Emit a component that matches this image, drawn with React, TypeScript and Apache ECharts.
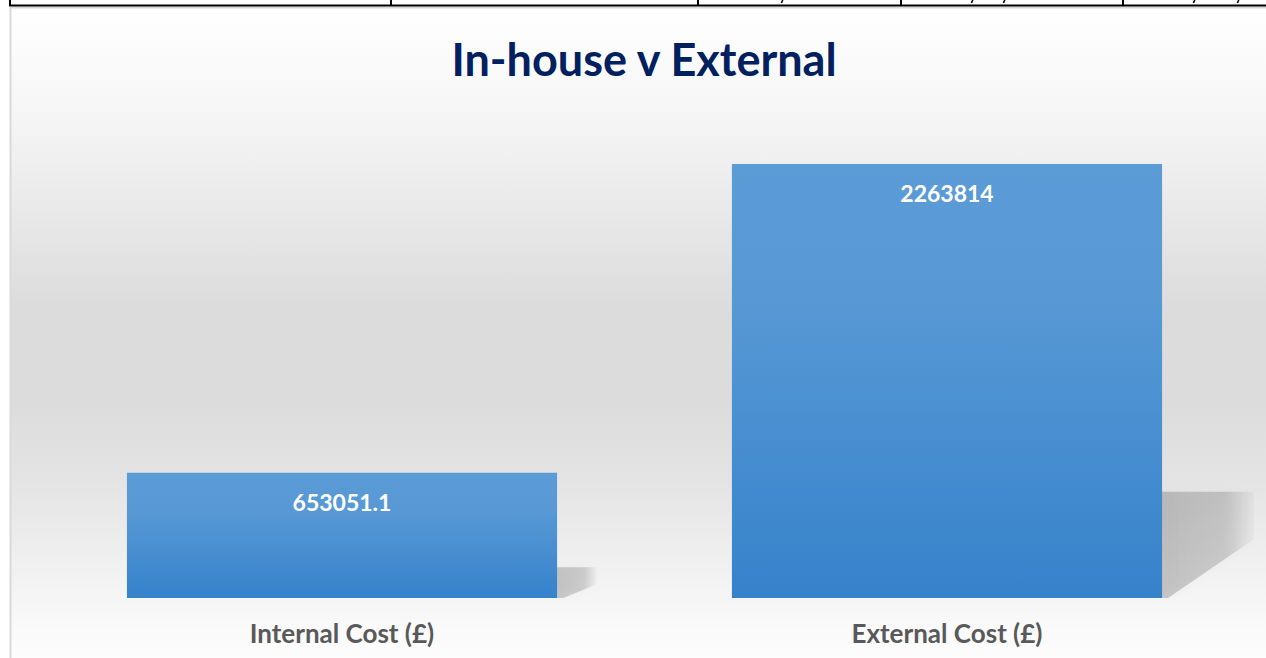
import React, { useEffect, useRef } from "react";
import * as echarts from "echarts";

const chartTitle = "In-house v External";
const categories = ["Internal Cost (£)", "External Cost (£)"];
const costValues = [653051.1, 2263814];
const yMax = 2500000;

const W = 1266;
const H = 658;

export default function App() {
  const ref = useRef<HTMLDivElement>(null);
  useEffect(() => {
    if (!ref.current) return;
    const chart = echarts.init(ref.current, null, { renderer: "svg" });
    const font = "Lato, 'Open Sans', sans-serif";
    const tableX = [10, 391, 698, 901, 1123];
    const commaX = [782, 972, 1004, 1194, 1238];
    const graphics: any[] = [
      {
        type: "rect",
        z: -10,
        silent: true,
        shape: { x: 10.5, y: 7.5, width: W + 20, height: H + 20 },
        style: {
          fill: new echarts.graphic.LinearGradient(0, 0, 0, 1, [
            { offset: 0, color: "#ffffff" },
            { offset: 0.14, color: "#f7f7f7" },
            { offset: 0.3, color: "#e9e9e9" },
            { offset: 0.44, color: "#dcdcdc" },
            { offset: 0.58, color: "#dcdcdc" },
            { offset: 0.7, color: "#e4e4e4" },
            { offset: 0.82, color: "#f0f0f0" },
            { offset: 0.92, color: "#fafafa" },
            { offset: 1, color: "#ffffff" },
          ]),
          stroke: "#d9d9d9",
          lineWidth: 2,
        },
      },
      {
        type: "line",
        z: 10,
        silent: true,
        shape: { x1: 9, y1: 5.5, x2: W, y2: 5.5 },
        style: { stroke: "#000", lineWidth: 2 },
      },
      ...tableX.map((x) => ({
        type: "line",
        z: 10,
        silent: true,
        shape: { x1: x, y1: 0, x2: x, y2: 6 },
        style: { stroke: "#000", lineWidth: 2 },
      })),
      ...commaX.map((x) => ({
        type: "line",
        z: 10,
        silent: true,
        shape: { x1: x + 0.8, y1: 0, x2: x - 0.6, y2: 3 },
        style: { stroke: "#000", lineWidth: 1.6 },
      })),
      {
        type: "text",
        z: 10,
        x: 644,
        y: 59,
        style: {
          text: chartTitle,
          fill: "#002060",
          font: `bold 45px ${font}`,
          textAlign: "center",
          textVerticalAlign: "middle",
        },
      },
    ];

    chart.setOption({
      animation: false,
      graphic: graphics,
      grid: { left: 39.5, right: 16.5, top: 118.7, bottom: 60 },
      xAxis: {
        type: "category",
        data: categories,
        axisLine: { show: false },
        axisTick: { show: false },
        axisLabel: {
          margin: 22,
          color: "#595959",
          fontFamily: font,
          fontWeight: "bold",
          fontSize: 26,
          lineHeight: 26,
        },
      },
      yAxis: {
        type: "value",
        min: 0,
        max: yMax,
        show: false,
        splitLine: { show: false },
      },
      series: [
        {
          type: "custom",
          z: 1,
          silent: true,
          data: costValues.map((v, i) => [i, v]),
          renderItem: (params: any, api: any) => {
            const idx = api.value(0);
            const v = api.value(1);
            const bottom = api.coord([idx, 0]);
            const top = api.coord([idx, v]);
            const bw = api.size([1, 0])[0] * 0.711;
            const xr = bottom[0] + bw / 2;
            const yb = bottom[1];
            const h = yb - top[1];
            const kh = 0.245 * h;
            const dx = 0.17 * h + 18;
            const e = 0.4 * kh + 5;
            return {
              type: "polygon",
              shape: {
                points: [
                  [xr - 2, yb - kh],
                  [xr + dx, yb - kh],
                  [xr + dx, yb - kh + e],
                  [xr + 6, yb],
                  [xr - 2, yb],
                ],
              },
              style: {
                fill: new echarts.graphic.LinearGradient(0, 0, 1, 0, [
                  { offset: 0, color: "rgba(0,0,0,0.19)" },
                  { offset: 0.7, color: "rgba(0,0,0,0.15)" },
                  { offset: 1, color: "rgba(0,0,0,0.02)" },
                ]),
                shadowBlur: 10,
                shadowColor: "rgba(0,0,0,0.12)",
              },
            };
          },
        },
        {
          type: "bar",
          z: 5,
          data: costValues,
          barWidth: "71.1%",
          itemStyle: {
            color: new echarts.graphic.LinearGradient(0, 0, 0, 1, [
              { offset: 0, color: "#5b9bd6" },
              { offset: 0.3, color: "#5899d5" },
              { offset: 1, color: "#3682cb" },
            ]),
          },
          label: {
            show: true,
            position: "insideTop",
            distance: 18,
            color: "#ffffff",
            fontFamily: font,
            fontWeight: "bold",
            fontSize: 23,
            formatter: (p: any) => String(p.value),
          },
        },
      ],
    });
    return () => chart.dispose();
  }, []);
  return (
    <div
      ref={ref}
      style={{ position: "fixed", left: 0, top: 0, width: W, height: H, background: "#fff" }}
    />
  );
}
